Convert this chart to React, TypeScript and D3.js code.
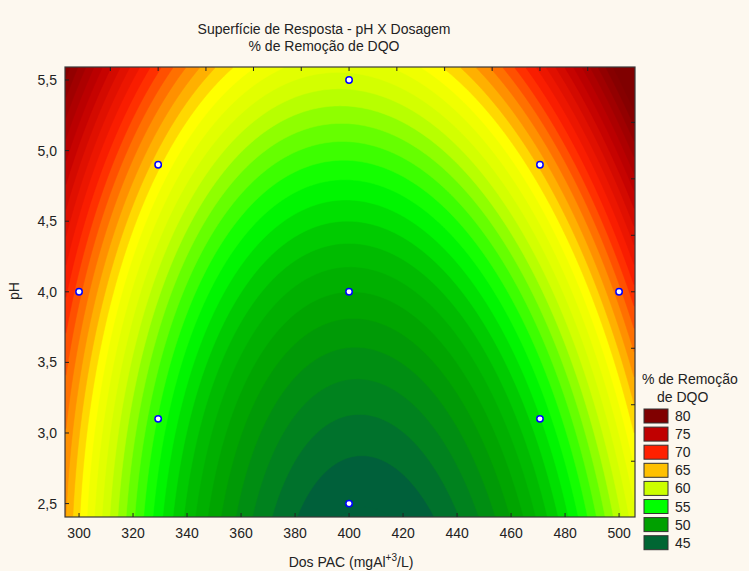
import React, { useMemo } from "react";
import * as d3 from "d3";

const W = 749;
const H = 571;
const plot = { left: 65, right: 635, top: 67, bottom: 517 };

// axis ranges and ticks
const doseDomain = [294.8, 505.9];
const phDomain = [2.405, 5.592];
const doseTicks = [300, 320, 340, 360, 380, 400, 420, 440, 460, 480, 500];
const phTicks = [2.5, 3.0, 3.5, 4.0, 4.5, 5.0, 5.5];
// secondary ticks (coded units) on top / right edges
const topTicks = [311.6, 329.3, 347.0, 364.6, 382.3, 400, 417.7, 435.4, 453.0, 470.7, 488.4];
const rightTicks = [2.8, 3.2, 3.6, 4.0, 4.4, 4.8, 5.2];

// experimental design points
const designDose = [400, 329.3, 470.7, 300, 400, 500, 329.3, 470.7, 400];
const designPH = [5.5, 4.9, 4.9, 4.0, 4.0, 4.0, 3.1, 3.1, 2.5];

// fitted quadratic model, u = (dose - 400) / 100, v = pH - 4
const b0 = 50;
const bU = -0.36;
const bV = 5.48;
const bUU = 18;
const bVV = 1.04;
const bUV = 1.16;

// colour ramp of the surface
const rampLevels = [44.5, 46.3, 49, 52, 55, 60, 63.5, 65.5, 67, 70, 75, 80];
const rampColors = ["#00603a", "#008020", "#00a000", "#00c000", "#00ff00", "#ccff00", "#ffff00", "#ffb000", "#ff8000", "#ff2000", "#c00000", "#800000"];

const legendLevels = [80, 75, 70, 65, 60, 55, 50, 45];
const legendColors = ["#800000", "#c00000", "#ff2000", "#ffc000", "#ccff00", "#00ff00", "#00a000", "#006633"];

const font = "'Liberation Sans', Arial, sans-serif";
const txt = "#222";

const comma = (v: number) => d3.format(".1f")(v).replace(".", ",");

export default function App() {
  const x = d3.scaleLinear().domain(doseDomain).range([plot.left, plot.right]);
  const y = d3.scaleLinear().domain(phDomain).range([plot.bottom, plot.top]);

  const color = d3.scaleLinear<string>().domain(rampLevels).range(rampColors).clamp(true);

  const bands = useMemo(() => {
    const nx = 285;
    const ny = 225;
    const pw = plot.right - plot.left;
    const ph = plot.bottom - plot.top;
    const values = new Array(nx * ny);
    for (let j = 0; j < ny; j++) {
      for (let i = 0; i < nx; i++) {
        const dose = x.invert(plot.left + ((i + 0.5) * pw) / nx);
        const p = y.invert(plot.top + ((j + 0.5) * ph) / ny);
        const u = (dose - 400) / 100;
        const v = p - 4;
        values[i + j * nx] = b0 + bU * u + bV * v + bUU * u * u + bVV * v * v + bUV * u * v;
      }
    }
    const thresholds = d3.range(38, 92, 1);
    const contours = d3.contours().size([nx, ny]).thresholds(thresholds)(values);
    const proj = d3.geoTransform({
      point(px, py) {
        this.stream.point(plot.left + (px * pw) / nx, plot.top + (py * ph) / ny);
      },
    });
    const path = d3.geoPath(proj);
    return contours.map((c) => ({ d: path(c) || "", fill: color(c.value + 0.5) }));
  }, []);

  return (
    <svg
      width={W}
      height={H}
      style={{ position: "absolute", left: 0, top: 0, fontFamily: font }}
    >
      <rect width={W} height={H} fill="#fdf8ef" />
      <defs>
        <clipPath id="plotclip">
          <rect x={plot.left} y={plot.top} width={plot.right - plot.left} height={plot.bottom - plot.top} />
        </clipPath>
      </defs>
      <g clipPath="url(#plotclip)">
        {bands.map((b, i) => (
          <path key={i} d={b.d} fill={b.fill} stroke={b.fill} strokeWidth={0.5} />
        ))}
      </g>

      {/* frame */}
      <rect
        x={plot.left}
        y={plot.top}
        width={plot.right - plot.left}
        height={plot.bottom - plot.top}
        fill="none"
        stroke="#3a3a3a"
        strokeWidth={1.2}
      />

      {/* ticks */}
      {doseTicks.map((t) => (
        <g key={"xb" + t}>
          <line x1={x(t)} x2={x(t)} y1={plot.bottom} y2={plot.bottom - 4} stroke="#222" />
          <text x={x(t)} y={538} textAnchor="middle" fontSize={14} fill={txt}>
            {t}
          </text>
        </g>
      ))}
      {topTicks.map((t) => (
        <line key={"xt" + t} x1={x(t)} x2={x(t)} y1={plot.top} y2={plot.top + 4} stroke="#222" />
      ))}
      {phTicks.map((t) => (
        <g key={"yl" + t}>
          <line x1={plot.left} x2={plot.left + 4} y1={y(t)} y2={y(t)} stroke="#222" />
          <text x={57} y={y(t) + 5} textAnchor="end" fontSize={14} fill={txt}>
            {comma(t)}
          </text>
        </g>
      ))}
      {rightTicks.map((t) => (
        <line key={"yr" + t} x1={plot.right} x2={plot.right - 4} y1={y(t)} y2={y(t)} stroke="#222" />
      ))}

      {/* design points */}
      {designDose.map((d, i) => (
        <circle key={"p" + i} cx={x(d)} cy={y(designPH[i])} r={3.2} fill="#fff" stroke="#0000ff" strokeWidth={1.5} />
      ))}

      {/* titles */}
      <text x={324} y={34} textAnchor="middle" fontSize={14} fill={txt}>
        Superfície de Resposta - pH X Dosagem
      </text>
      <text x={324} y={51} textAnchor="middle" fontSize={14} fill={txt}>
        % de Remoção de DQO
      </text>
      <text transform="translate(19,291) rotate(-90)" textAnchor="middle" fontSize={14} fill={txt}>
        pH
      </text>
      <text x={351} y={567} textAnchor="middle" fontSize={14} fill={txt}>
        Dos PAC (mgAl
        <tspan dy={-6} fontSize={10}>+3</tspan>
        <tspan dy={6}>/L)</tspan>
      </text>

      {/* legend */}
      <text x={642} y={384} fontSize={14} fill={txt}>
        % de Remoção
      </text>
      <text x={657} y={402} fontSize={14} fill={txt}>
        de DQO
      </text>
      {legendLevels.map((lv, i) => (
        <g key={"lg" + lv}>
          <rect x={644} y={409 + i * 18.1} width={24} height={14} fill={legendColors[i]} stroke="#333" strokeWidth={1} />
          <text x={675} y={421 + i * 18.1} fontSize={14} fill={txt}>
            {lv}
          </text>
        </g>
      ))}
    </svg>
  );
}
